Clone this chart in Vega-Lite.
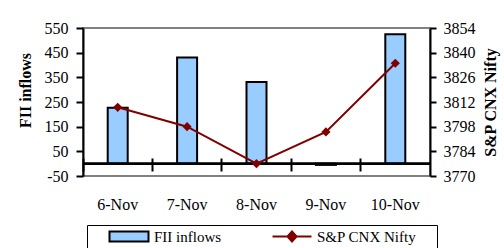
{
  "$schema": "https://vega.github.io/schema/vega-lite/v6.json",
  "width": 347,
  "height": 148,
  "autosize": {"type": "none"},
  "padding": {"left": 83, "top": 28, "right": 74, "bottom": 72},
  "background": "white",
  "config": {
    "view": {"stroke": "#808080", "strokeWidth": 2},
    "locale": {"number": {"decimal": ".", "thousands": ",", "grouping": [3], "currency": ["$", ""], "minus": "-"}},
    "axis": {
      "labelFont": "Liberation Serif",
      "labelFontSize": 16,
      "labelColor": "black",
      "titleFont": "Liberation Serif",
      "titleFontSize": 16,
      "titleFontWeight": "bold",
      "titleColor": "black",
      "domainColor": "black",
      "domainWidth": 2,
      "tickColor": "black",
      "tickWidth": 2,
      "grid": false
    },
    "legend": {
      "orient": "none", "legendY": 197, "padding": 4,
      "symbolSize": 169, "symbolOffset": 30.5, "labelOffset": 17.5,
      "symbolStrokeWidth": 2, "symbolOpacity": 1,
      "labelFont": "Liberation Serif", "labelFontSize": 15, "labelColor": "black"
    }
  },
  "data": {
    "values": [
      {"date": "6-Nov", "fii": 227, "nifty": 3809},
      {"date": "7-Nov", "fii": 430, "nifty": 3798},
      {"date": "8-Nov", "fii": 331, "nifty": 3777},
      {"date": "9-Nov", "fii": -5, "nifty": 3795},
      {"date": "10-Nov", "fii": 525, "nifty": 3834}
    ]
  },
  "layer": [
    {
      "layer": [
        {
          "mark": {"type": "bar", "size": 20, "stroke": "black", "strokeWidth": 2},
          "encoding": {
            "x": {
              "field": "date", "type": "ordinal", "sort": null,
              "scale": {"paddingInner": 0, "paddingOuter": 0},
              "axis": {
                "title": null, "labelAngle": 0, "offset": -18, "domain": false,
                "tickSize": 13, "bandPosition": 0, "labelPadding": 25
              }
            },
            "y": {
              "field": "fii", "type": "quantitative",
              "scale": {"domain": [-50, 550], "nice": false, "zero": false},
              "axis": {
                "orient": "left", "title": "FII inflows", "format": "d",
                "values": [-50, 50, 150, 250, 350, 450, 550],
                "tickCount": 7, "labelOverlap": false,
                "tickSize": 7, "labelPadding": 8,
                "titleAngle": 270, "titleX": -58, "titleY": 62,
                "titleAlign": "center", "titleBaseline": "middle"
              }
            },
            "fill": {
              "datum": "FII inflows",
              "scale": {"domain": ["FII inflows"], "range": ["#99CCFF"]},
              "legend": {
                "legendX": 4,
                "symbolType": "M-6.6,0M-3,-0.77L3,-0.77L3,0.77L-3,0.77Z",
                "symbolStrokeColor": "black",
                "strokeColor": "black",
                "title": " ", "titleOrient": "right", "titlePadding": 212, "titleFontSize": 1
              }
            }
          }
        },
        {
          "mark": {"type": "rule", "color": "black", "strokeWidth": 2},
          "encoding": {"y": {"datum": 0}}
        }
      ]
    },
    {
      "encoding": {
        "x": {"field": "date", "type": "ordinal", "sort": null},
        "y": {
          "field": "nifty", "type": "quantitative",
          "scale": {"domain": [3770, 3854], "nice": false, "zero": false},
          "axis": {
            "orient": "right", "title": "S&P CNX Nifty", "format": "d",
            "values": [3770, 3784, 3798, 3812, 3826, 3840, 3854],
            "tickCount": 7, "labelOverlap": false,
            "tickSize": 6, "labelPadding": 7,
            "titleAngle": 270, "titleX": 60, "titleY": 74,
            "titleAlign": "center", "titleBaseline": "middle"
          }
        }
      },
      "layer": [
        {
          "mark": {"type": "line", "strokeWidth": 2, "color": "#800000"},
          "encoding": {}
        },
        {
          "mark": {"type": "point", "shape": "diamond", "filled": true, "size": 85, "opacity": 1},
          "encoding": {
            "fill": {
              "datum": "S&P CNX Nifty",
              "scale": {"domain": ["S&P CNX Nifty"], "range": ["#800000"]},
              "legend": {
                "legendX": 167,
                "title": null,
                "symbolType": "M-3,0L3,0M0,-0.77L0.7,0L0,0.77L-0.7,0Z",
                "symbolStrokeColor": "#800000",
                "symbolFillColor": "#800000"
              }
            }
          }
        }
      ]
    }
  ],
  "resolve": {"scale": {"y": "independent", "fill": "independent"}, "legend": {"fill": "independent"}}
}
